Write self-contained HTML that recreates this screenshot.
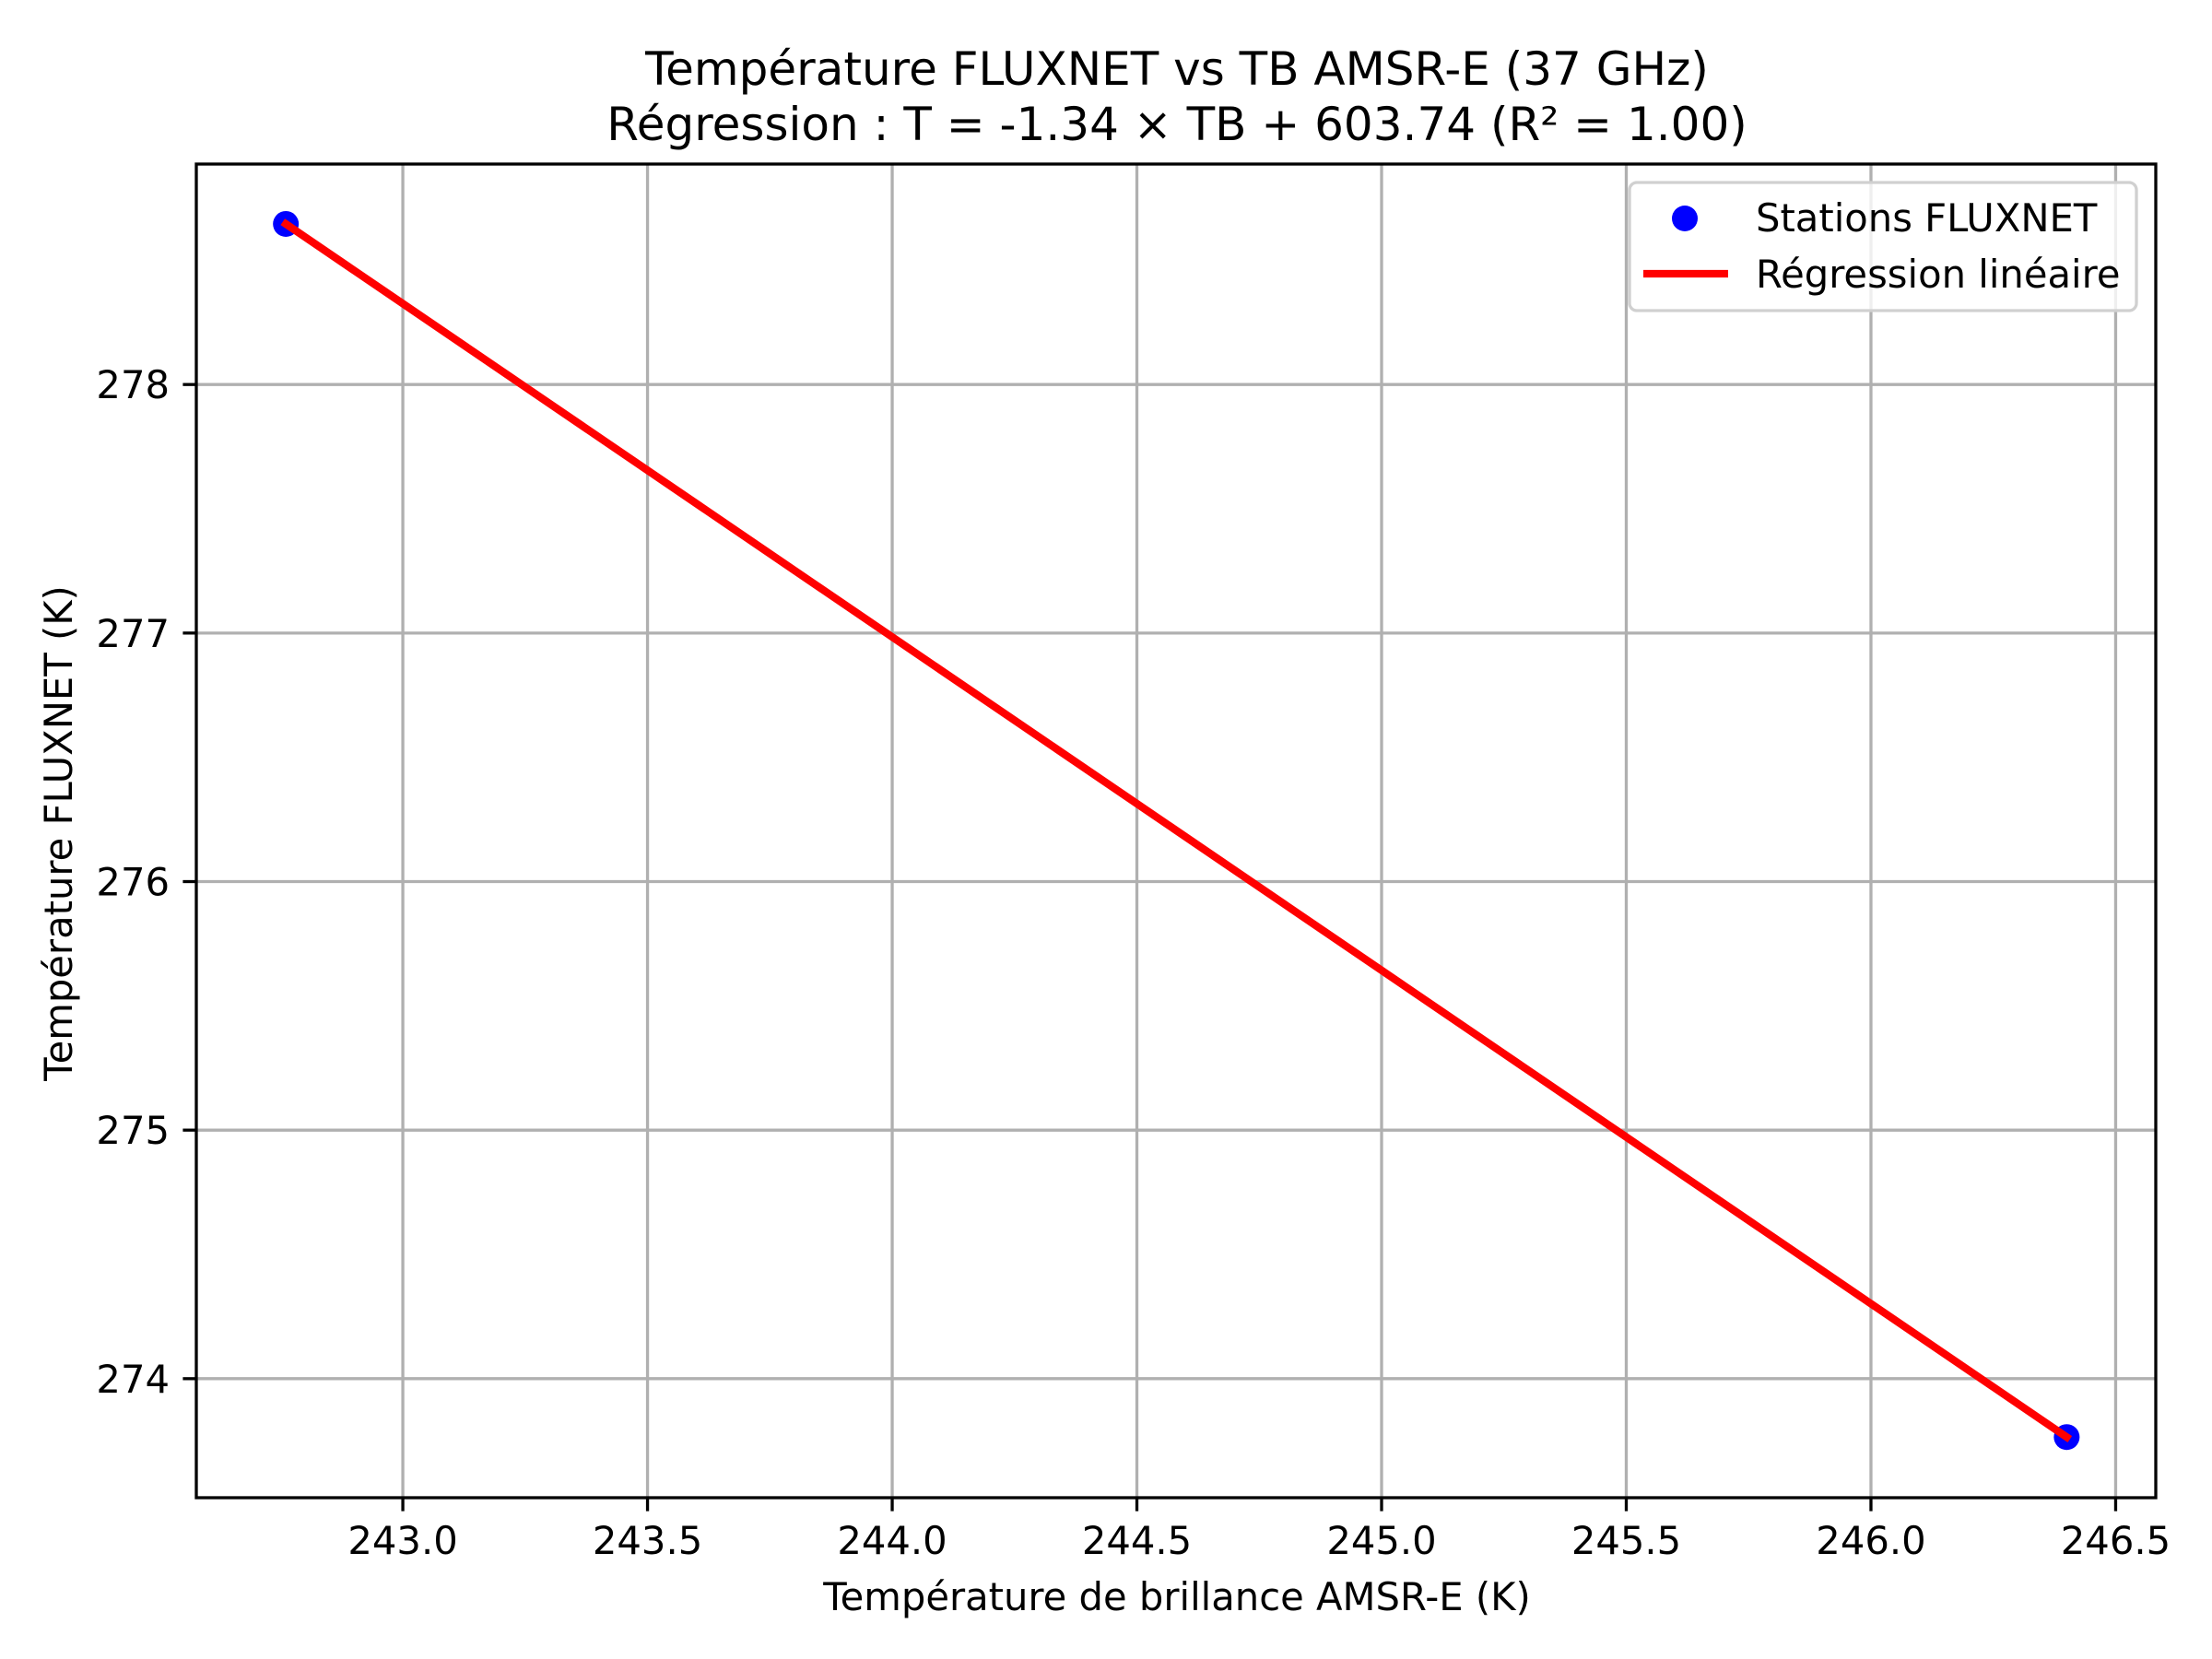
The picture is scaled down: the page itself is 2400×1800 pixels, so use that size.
<!DOCTYPE html>
<html><head><meta charset="utf-8"><style>
html,body{margin:0;padding:0;background:#fff;}
svg{display:block;font-family:"DejaVu Sans","Liberation Sans",sans-serif;}
</style></head><body>
<svg id="chart" width="2400" height="1800" viewBox="0 0 2400 1800" xmlns="http://www.w3.org/2000/svg">
<rect width="2400" height="1800" fill="#fff"/>
<text x="1277" y="92" font-size="50" text-anchor="middle">Température FLUXNET vs TB AMSR-E (37 GHz)</text>
<text x="1277" y="152" font-size="50" text-anchor="middle">Régression : T = -1.34 × TB + 603.74 (R² = 1.00)</text>
<g id="grid"></g>
<g id="plot"></g>
<g id="axes"></g>
<text x="1277" y="1747" font-size="41.7" text-anchor="middle">Température de brillance AMSR-E (K)</text>
<text transform="translate(78,904) rotate(-90)" font-size="41.7" text-anchor="middle">Température FLUXNET (K)</text>
<g>
<rect x="1768" y="198" width="550" height="139" rx="8" fill="#fff" fill-opacity="0.8" stroke="#d0d0d0" stroke-width="3.3"/>
<circle cx="1828" cy="237" r="14" fill="#0000ff"/>
<text x="1905" y="251" font-size="41.7">Stations FLUXNET</text>
<line x1="1783" y1="297" x2="1875" y2="297" stroke="#ff0000" stroke-width="8.3"/>
<text x="1905" y="312" font-size="41.7">Régression linéaire</text>
</g>
</svg>
<script>
const xTicks = [243.0, 243.5, 244.0, 244.5, 245.0, 245.5, 246.0, 246.5];
const xTickLabels = ["243.0","243.5","244.0","244.5","245.0","245.5","246.0","246.5"];
const yTicks = [274, 275, 276, 277, 278];
const yTickLabels = ["274","275","276","277","278"];
const stationTB = [242.761, 246.400];
const stationT = [278.646, 273.765];
const regTB = [242.761, 246.400];
const regT = [278.646, 273.765];

const L=213, R=2339, T=178, B=1625;
const xMin=242.578, xMax=246.582, yMin=273.521, yMax=278.887;
function sx(v){return L+(v-xMin)/(xMax-xMin)*(R-L);}
function sy(v){return B-(v-yMin)/(yMax-yMin)*(B-T);}
const NS="http://www.w3.org/2000/svg";
function mk(tag,attrs,parent,txt){const e=document.createElementNS(NS,tag);for(const k in attrs)e.setAttribute(k,attrs[k]);if(txt!==undefined)e.textContent=txt;parent.appendChild(e);return e;}
const grid=document.getElementById('grid'), plot=document.getElementById('plot'), axes=document.getElementById('axes');

xTicks.forEach((v,i)=>{
  const g=mk('line',{x1:sx(v),x2:sx(v),y1:T,y2:B,stroke:'#b0b0b0','stroke-width':3.3},grid);
  
  
  const t=mk('line',{x1:sx(v),x2:sx(v),y1:B,y2:B+14.6,stroke:'#000','stroke-width':3.3},axes);
  
  
  const l=mk('text',{x:sx(v),y:1686,'font-size':41.7,'text-anchor':'middle'},axes,xTickLabels[i]);
  
  
});
yTicks.forEach((v,i)=>{
  const g=mk('line',{x1:L,x2:R,y1:sy(v),y2:sy(v),stroke:'#b0b0b0','stroke-width':3.3},grid);
  
  
  const t=mk('line',{x1:L-14.6,x2:L,y1:sy(v),y2:sy(v),stroke:'#000','stroke-width':3.3},axes);
  
  
  const l=mk('text',{x:184,y:sy(v)+15,'font-size':41.7,'text-anchor':'end'},axes,yTickLabels[i]);
  
  
});
const frame=mk('rect',{x:L,y:T,width:R-L,height:B-T,fill:'none',stroke:'#000','stroke-width':3.3},axes);



stationTB.forEach((v,i)=>{
  const c=mk('circle',{cx:sx(v),cy:sy(stationT[i]),r:14,fill:'#0000ff'},plot);
  
  
});
const pts=regTB.map((v,i)=>sx(v)+','+sy(regT[i])).join(' ');
const line=mk('polyline',{points:pts,fill:'none',stroke:'#ff0000','stroke-width':8.3,'stroke-linecap':'square'},plot);


</script>
</body></html>
